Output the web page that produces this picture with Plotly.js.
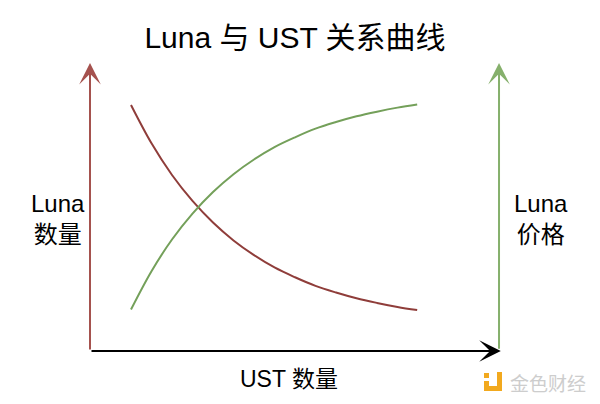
<!DOCTYPE html>
<html>
<head>
<meta charset="utf-8">
<script src="https://cdn.plot.ly/plotly-3.0.1.min.js"></script>
<style>html,body{margin:0;padding:0;background:#fff;}#chart{width:600px;height:404px;}</style>
</head>
<body>
<div id="chart"></div>
<script>
// UST quantity (x), Luna quantity (brown) and Luna price (green)
const ustQuantity = [10, 15, 20, 25, 30, 35, 40, 45, 50, 55, 60, 65, 70, 75, 79.8];
const lunaQuantity = [85.4, 72.1, 61.1, 52.1, 44.6, 38.4, 33.3, 29.0, 25.6, 22.6, 20.3, 18.3, 16.7, 15.3, 14.2];
const lunaPrice = [14.4, 27.7, 38.7, 47.7, 55.2, 61.4, 66.5, 70.8, 74.2, 77.2, 79.5, 81.5, 83.1, 84.5, 85.6];

const titleText = 'Luna 与 UST 关系曲线';
const leftLabel = 'Luna<br>数量';
const rightLabel = 'Luna<br>价格';
const bottomLabel = 'UST 数量';
const watermark = '金色财经';

const FONT = 'Liberation Sans, Arial, "Noto Sans CJK SC", sans-serif';
const CJK = '"Noto Sans CJK SC", "Liberation Sans", sans-serif';

const L = 90, R = 500, T = 63, B = 351;
const px = p => (p - L) / (R - L);
const py = p => (B - p) / (B - T);

const traces = [
  {x: ustQuantity, y: lunaQuantity, mode: 'lines', line: {color: '#8f3d3a', width: 2, shape: 'spline'}, hoverinfo: 'skip'},
  {x: ustQuantity, y: lunaPrice, mode: 'lines', line: {color: '#74a05a', width: 2, shape: 'spline'}, hoverinfo: 'skip'}
];

function arrow(x, y, ax, ay, color) {
  return {x: x, y: y, ax: ax, ay: ay, xref: 'x', yref: 'y', axref: 'x', ayref: 'y',
    text: '', showarrow: true, arrowhead: 3, arrowsize: 1.8, arrowwidth: 2, arrowcolor: color, standoff: 0};
}

const annotations = [
  arrow(0, 100, 0, 0, '#a5524e'),
  arrow(99.76, 100, 99.76, 0.3, '#86b06c'),
  arrow(100.2, 0, 0, 0, '#000000'),
  {xref: 'paper', yref: 'paper', x: px(57.5), y: py(218.5), text: leftLabel, showarrow: false,
   font: {family: FONT, size: 24, color: '#000'}, xanchor: 'center', yanchor: 'middle', align: 'center'},
  {xref: 'paper', yref: 'paper', x: px(541), y: py(218.5), text: rightLabel, showarrow: false,
   font: {family: FONT, size: 24, color: '#000'}, xanchor: 'center', yanchor: 'middle', align: 'center'},
  {xref: 'paper', yref: 'paper', x: px(289), y: py(379), text: bottomLabel, showarrow: false,
   font: {family: FONT, size: 23, color: '#000'}, xanchor: 'center', yanchor: 'middle'},
  {xref: 'paper', yref: 'paper', x: px(547.5), y: py(382), text: watermark, showarrow: false,
   font: {family: CJK, size: 19, color: '#cdcdcd'}, xanchor: 'center', yanchor: 'middle'}
];

const gold = '#f2a91e';
const shapes = [
  {type: 'rect', xref: 'paper', yref: 'paper', x0: px(484), x1: px(489), y0: py(378), y1: py(373), fillcolor: gold, line: {width: 0}},
  {type: 'rect', xref: 'paper', yref: 'paper', x0: px(484), x1: px(502), y0: py(391), y1: py(386), fillcolor: gold, line: {width: 0}},
  {type: 'rect', xref: 'paper', yref: 'paper', x0: px(497), x1: px(502), y0: py(391), y1: py(372), fillcolor: gold, line: {width: 0}},
  {type: 'rect', xref: 'paper', yref: 'paper', x0: px(484), x1: px(489), y0: py(386), y1: py(381), fillcolor: gold, line: {width: 0}}
];

const layout = {
  width: 600, height: 404,
  margin: {l: L, r: 600 - R, t: T, b: 404 - B, pad: 0},
  paper_bgcolor: '#ffffff', plot_bgcolor: '#ffffff',
  showlegend: false,
  title: {text: titleText, x: 0.5, xref: 'paper', xanchor: 'center', y: 1 - 37 / 404, yref: 'container', yanchor: 'middle',
          font: {family: FONT, size: 30, color: '#000'}},
  xaxis: {range: [0, 100], visible: false, fixedrange: true},
  yaxis: {range: [0, 100], visible: false, fixedrange: true},
  annotations: annotations,
  shapes: shapes
};

Plotly.newPlot('chart', traces, layout, {staticPlot: true, displayModeBar: false});
</script>
</body>
</html>
